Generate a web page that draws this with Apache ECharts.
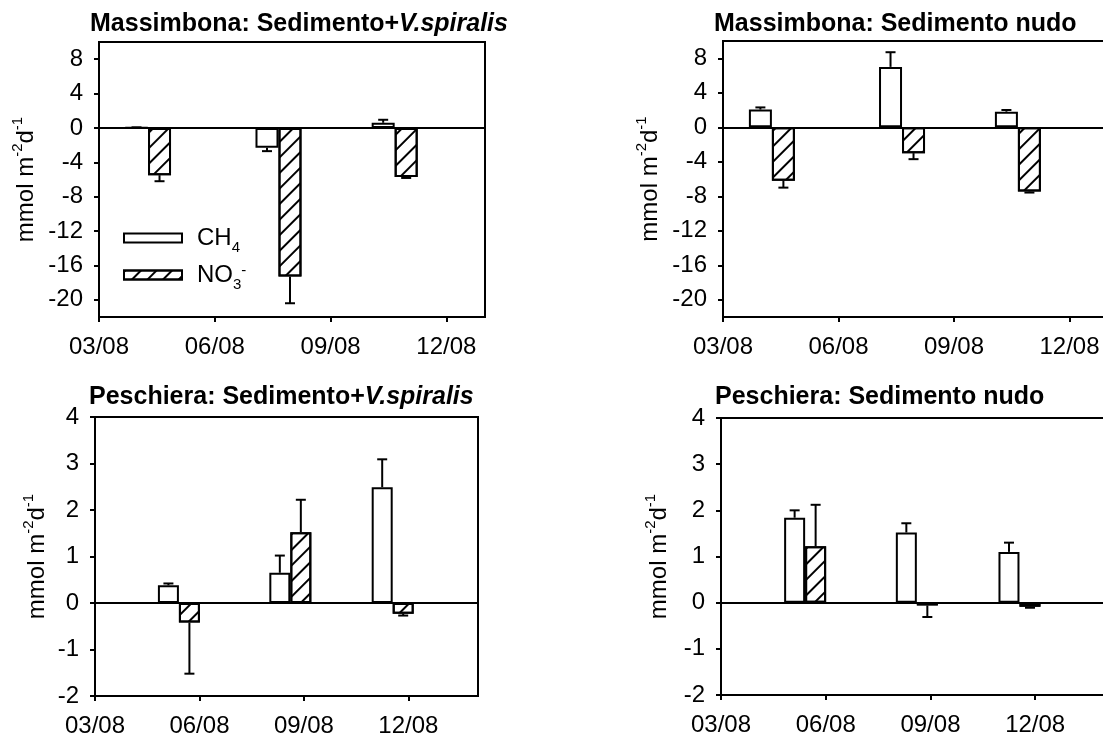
<!DOCTYPE html>
<html>
<head>
<meta charset="utf-8">
<script src="https://cdn.jsdelivr.net/npm/echarts@6/dist/echarts.min.js"></script>
<style>
  html, body { margin: 0; padding: 0; background: #fff; }
  #chart { width: 1103px; height: 740px; }
</style>
</head>
<body>
<div id="chart"></div>
<script>
// x values are months counted from 03/08
var xTickValues = [0, 3, 6, 9];
var xTickLabels = ['03/08', '06/08', '09/08', '12/08'];
var yTopTicks = [-20, -16, -12, -8, -4, 0, 4, 8];
var yBottomTicks = [-2, -1, 0, 1, 2, 3, 4];

var massDates = [1.27, 4.65, 7.66];
var pescDates = [2.41, 5.61, 8.55];

var massVegCH4 = [0.05, -2.3, 0.6];
var massVegCH4Err = [0.02, 0.4, 0.35];
var massVegNO3 = [-5.5, -17.3, -5.7];
var massVegNO3Err = [0.7, 3.1, 0.12];

var massNudoCH4 = [2.05, 7.0, 1.8];
var massNudoCH4Err = [0.25, 1.7, 0.2];
var massNudoNO3 = [-6.2, -3.0, -7.45];
var massNudoNO3Err = [0.8, 0.7, 0.12];

var pescVegCH4 = [0.38, 0.65, 2.49];
var pescVegCH4Err = [0.04, 0.37, 0.6];
var pescVegNO3 = [-0.42, 1.52, -0.23];
var pescVegNO3Err = [1.1, 0.7, 0.04];

var pescNudoCH4 = [1.84, 1.52, 1.1];
var pescNudoCH4Err = [0.16, 0.2, 0.2];
var pescNudoNO3 = [1.22, -0.06, -0.09];
var pescNudoNO3Err = [0.9, 0.25, 0.02];

var font = 'Liberation Sans, Arial, sans-serif';

var panels = [
  { title: '{b|Massimbona: Sedimento+}{i|V.spiralis}', tl: 90, tt: 12,
    grid: { left: 99, top: 42, width: 386, height: 275 }, xmax: 10, ymin: -22, ymax: 10, yticks: yTopTicks,
    dates: massDates, ch4: massVegCH4, ch4e: massVegCH4Err, no3: massVegNO3, no3e: massVegNO3Err, bw: 23, nameGap: 61 },
  { title: '{b|Massimbona: Sedimento nudo}', tl: 714, tt: 12,
    grid: { left: 723, top: 41, width: 385, height: 276 }, xmax: 10, ymin: -22, ymax: 10, yticks: yTopTicks,
    dates: massDates, ch4: massNudoCH4, ch4e: massNudoCH4Err, no3: massNudoNO3, no3e: massNudoNO3Err, bw: 23, nameGap: 61 },
  { title: '{b|Peschiera: Sedimento+}{i|V.spiralis}', tl: 89, tt: 385,
    grid: { left: 95, top: 417, width: 383, height: 279 }, xmax: 11, ymin: -2, ymax: 4, yticks: yBottomTicks,
    dates: pescDates, ch4: pescVegCH4, ch4e: pescVegCH4Err, no3: pescVegNO3, no3e: pescVegNO3Err, bw: 21, nameGap: 46 },
  { title: '{b|Peschiera: Sedimento nudo}', tl: 715, tt: 385,
    grid: { left: 721, top: 418, width: 384, height: 277 }, xmax: 11, ymin: -2, ymax: 4, yticks: yBottomTicks,
    dates: pescDates, ch4: pescNudoCH4, ch4e: pescNudoCH4Err, no3: pescNudoNO3, no3e: pescNudoNO3Err, bw: 21, nameGap: 50 }
];

var hatch = {
  symbol: 'rect',
  symbolSize: 1,
  dashArrayX: [1, 0],
  dashArrayY: [2, 8.6],
  rotation: -Math.PI / 4,
  color: '#000'
};

function errorBars(side, bw) {
  return function (params, api) {
    var x = api.value(0), y = api.value(1), e = api.value(2);
    var sign = y < 0 ? -1 : 1;
    var p0 = api.coord([x, y]);
    var p1 = api.coord([x, y + sign * e]);
    var px = p0[0] + side * bw / 2;
    var style = { stroke: '#000', lineWidth: 2 };
    return {
      type: 'group',
      children: [
        { type: 'line', shape: { x1: px, y1: p0[1], x2: px, y2: p1[1] }, style: style },
        { type: 'line', shape: { x1: px - 5, y1: p1[1], x2: px + 5, y2: p1[1] }, style: style }
      ]
    };
  };
}

var titles = [], grids = [], xAxes = [], yAxes = [], series = [];

panels.forEach(function (p, i) {
  titles.push({
    text: p.title, left: p.tl, top: p.tt, padding: 0,
    textStyle: {
      fontFamily: font, fontSize: 25, fontWeight: 'bold', color: '#000',
      rich: {
        b: { fontFamily: font, fontSize: 25, fontWeight: 'bold', color: '#000' },
        i: { fontFamily: font, fontSize: 25, fontWeight: 'bold', fontStyle: 'italic', color: '#000' }
      }
    }
  });
  grids.push(Object.assign({ show: true, borderColor: '#000', borderWidth: 2, outerBoundsMode: 'none', containLabel: false }, p.grid));
  xAxes.push({
    gridIndex: i, type: 'value', min: 0, max: p.xmax,
    axisLine: { show: true, onZero: false, lineStyle: { color: '#000', width: 2 } },
    axisTick: { show: true, inside: false, length: 5, customValues: xTickValues, lineStyle: { color: '#000', width: 2 } },
    axisLabel: {
      customValues: xTickValues, margin: 18, color: '#000', fontSize: 24, fontFamily: font,
      formatter: function (v) { return xTickLabels[xTickValues.indexOf(v)]; }
    },
    splitLine: { show: false }
  });
  yAxes.push({
    gridIndex: i, type: 'value', min: p.ymin, max: p.ymax,
    name: '{a|mmol m}{s|-2}{a|d}{s|-1}', nameLocation: 'middle', nameGap: p.nameGap, nameRotate: 90,
    nameTextStyle: {
      color: '#000', fontFamily: font, fontSize: 24,
      rich: {
        a: { fontFamily: font, fontSize: 24, color: '#000', lineHeight: 28, verticalAlign: 'bottom' },
        s: { fontFamily: font, fontSize: 15, color: '#000', lineHeight: 28, verticalAlign: 'top' }
      }
    },
    axisLine: { show: true, lineStyle: { color: '#000', width: 2 } },
    axisTick: { show: true, inside: false, length: 5, customValues: p.yticks, lineStyle: { color: '#000', width: 2 } },
    axisLabel: { customValues: p.yticks, margin: 16, color: '#000', fontSize: 24, fontFamily: font },
    splitLine: { show: false }
  });
  var ch4 = p.dates.map(function (d, k) { return [d, p.ch4[k]]; });
  var no3 = p.dates.map(function (d, k) { return [d, p.no3[k]]; });
  series.push({
    name: 'CH4', type: 'bar', xAxisIndex: i, yAxisIndex: i, data: ch4,
    barWidth: p.bw, barGap: '0%', silent: true,
    itemStyle: { color: '#fff', borderColor: '#000', borderWidth: 2 },
    markLine: {
      silent: true, symbol: ['none', 'none'], label: { show: false },
      lineStyle: { color: '#000', width: 2, type: 'solid' },
      data: [{ yAxis: 0 }]
    }
  });
  series.push({
    name: 'NO3', type: 'bar', xAxisIndex: i, yAxisIndex: i, data: no3,
    barWidth: p.bw, barGap: '0%', silent: true,
    itemStyle: { color: '#fff', borderColor: '#000', borderWidth: 2, decal: hatch }
  });
  series.push({
    type: 'custom', xAxisIndex: i, yAxisIndex: i, silent: true, z: 5,
    renderItem: errorBars(-1, p.bw),
    data: p.dates.map(function (d, k) { return [d, p.ch4[k], p.ch4e[k]]; })
  });
  series.push({
    type: 'custom', xAxisIndex: i, yAxisIndex: i, silent: true, z: 5,
    renderItem: errorBars(1, p.bw),
    data: p.dates.map(function (d, k) { return [d, p.no3[k], p.no3e[k]]; })
  });
});

var chart = echarts.init(document.getElementById('chart'), null, { renderer: 'canvas' });
chart.setOption({
  backgroundColor: '#fff',
  animation: false,
  title: titles,
  legend: {
    data: ['CH4', 'NO3'], orient: 'vertical', left: 123, top: 226, padding: 0,
    icon: 'rect', itemWidth: 58, itemHeight: 9, itemGap: 8, selectedMode: false,
    formatter: function (n) { return n === 'CH4' ? '{a|CH}{b|4}' : '{a|NO}{b|3}{c|-}'; },
    textStyle: {
      padding: [0, 0, 0, 10],
      rich: {
        a: { fontFamily: font, fontSize: 24, color: '#000', lineHeight: 24, verticalAlign: 'top' },
        b: { fontFamily: font, fontSize: 15, color: '#000', lineHeight: 15, verticalAlign: 'top', padding: [14, 0, 0, 0] },
        c: { fontFamily: font, fontSize: 15, color: '#000', lineHeight: 15, verticalAlign: 'top' }
      }
    }
  },
  grid: grids,
  xAxis: xAxes,
  yAxis: yAxes,
  series: series
});
</script>
</body>
</html>
